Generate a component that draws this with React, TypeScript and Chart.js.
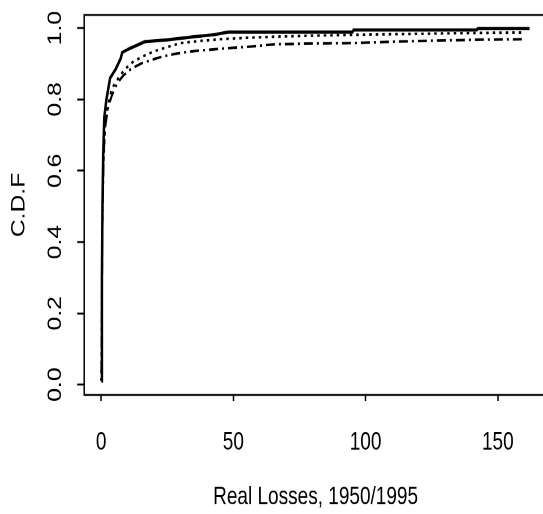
import React, { useEffect, useRef } from "react";
import { Chart, registerables } from "chart.js";

Chart.register(...registerables);

// ---- data ----
const solidX = [0.1, 0.3, 0.5, 0.8, 1.2, 2, 3.4, 5.5, 7.4, 8, 10.5, 13.5, 16.5, 25, 35, 43, 48, 95, 95.5, 142, 142.5, 162];
const solidY = [0.01, 0.3, 0.5, 0.65, 0.75, 0.8, 0.86, 0.885, 0.915, 0.932, 0.942, 0.952, 0.962, 0.967, 0.976, 0.982, 0.989, 0.989, 0.995, 0.995, 0.999, 0.999];

const dottedX = [0.05, 0.3, 0.8, 1.5, 2.5, 4, 6.5, 9, 12, 15.5, 20, 25, 30, 37, 45, 55, 65, 80, 100, 120, 135, 160];
const dottedY = [0.01, 0.3, 0.6, 0.72, 0.78, 0.83, 0.86, 0.885, 0.905, 0.92, 0.935, 0.947, 0.958, 0.964, 0.969, 0.973, 0.976, 0.979, 0.982, 0.984, 0.986, 0.988];

const dashDotX = [0.05, 0.3, 0.6, 1.0, 1.5, 2.7, 4, 6, 8.5, 11.5, 15.5, 19, 23, 28, 33, 40, 48, 56, 66, 80, 95, 110, 125, 145, 160];
const dashDotY = [0.01, 0.25, 0.5, 0.65, 0.72, 0.78, 0.81, 0.845, 0.868, 0.887, 0.902, 0.911, 0.92, 0.928, 0.934, 0.939, 0.944, 0.948, 0.955, 0.957, 0.958, 0.962, 0.965, 0.968, 0.969];

const xTickValues = [0, 50, 100, 150];
const xTickLabels = ["0", "50", "100", "150"];
const yTickValues = [0, 0.2, 0.4, 0.6, 0.8, 1.0];
const yTickLabels = ["0.0", "0.2", "0.4", "0.6", "0.8", "1.0"];
const xTitle = "Real Losses, 1950/1995";
const yTitle = "C.D.F";

// ---- layout (internal canvas units; canvas is displayed stretched vertically) ----
const W = 560;
const H = 395;
const FONT = '"Liberation Sans", Arial, Helvetica, sans-serif';

const toPts = (xs: number[], ys: number[]) => xs.map((x, i) => ({ x, y: ys[i] }));

const framePlugin = {
  id: "frameAndYLabels",
  afterDatasetsDraw(chart: any) {
    const { ctx, chartArea: a } = chart;
    ctx.save();
    ctx.strokeStyle = "#000";
    ctx.lineWidth = 1.5;
    ctx.strokeRect(a.left, a.top, a.right - a.left, a.bottom - a.top);
    const ys = chart.scales.y;
    ctx.fillStyle = "#000";
    ctx.font = `19px ${FONT}`;
    ctx.textAlign = "center";
    ctx.textBaseline = "middle";
    yTickValues.forEach((v, i) => {
      const py = ys.getPixelForValue(v);
      ctx.save();
      ctx.translate(56, py);
      ctx.rotate(-Math.PI / 2);
      ctx.fillText(yTickLabels[i], 0, 0);
      ctx.restore();
    });
    ctx.restore();
  },
};

export default function App() {
  const ref = useRef<HTMLCanvasElement | null>(null);

  useEffect(() => {
    if (!ref.current) return;
    const chart = new Chart(ref.current, {
      type: "scatter",
      data: {
        datasets: [
          {
            data: toPts(solidX, solidY),
            showLine: true,
            borderColor: "#000",
            borderWidth: 2.5,
            pointRadius: 0,
            tension: 0,
            fill: false,
          },
          {
            data: toPts(dottedX, dottedY),
            showLine: true,
            borderColor: "#000",
            borderWidth: 2,
            borderDash: [2.5, 4],
            pointRadius: 0,
            tension: 0,
            fill: false,
          },
          {
            data: toPts(dashDotX, dashDotY),
            showLine: true,
            borderColor: "#000",
            borderWidth: 2,
            borderDash: [2, 4, 9, 4],
            pointRadius: 0,
            tension: 0,
            fill: false,
          },
        ],
      },
      options: {
        animation: false,
        responsive: false,
        devicePixelRatio: 2,
        layout: { padding: { left: 0, top: 11.5, right: W - 547, bottom: 0 } },
        plugins: { legend: { display: false }, tooltip: { enabled: false } },
        scales: {
          x: {
            type: "linear",
            min: -6.4,
            max: 168.6,
            afterBuildTicks: (s: any) => {
              s.ticks = xTickValues.map((v) => ({ value: v }));
            },
            afterFit: (s: any) => {
              s.height = H - 303.5;
            },
            ticks: {
              callback: (v: any) => xTickLabels[xTickValues.indexOf(Number(v))] ?? "",
              font: { family: FONT, size: 19 },
              color: "#000",
              padding: 21,
              maxRotation: 0,
              minRotation: 0,
              autoSkip: false,
            },
            grid: {
              drawOnChartArea: false,
              drawTicks: true,
              tickLength: 4.5,
              tickWidth: 1.5,
              tickColor: "#000",
            },
            border: { display: false },
            title: {
              display: true,
              text: xTitle,
              color: "#000",
              font: { family: FONT, size: 19 },
              padding: { top: 0, bottom: 1.3 },
            },
          },
          y: {
            type: "linear",
            min: -0.029,
            max: 1.037,
            afterBuildTicks: (s: any) => {
              s.ticks = yTickValues.map((v) => ({ value: v }));
            },
            afterFit: (s: any) => {
              s.width = 84.2;
            },
            ticks: { display: false },
            grid: {
              drawOnChartArea: false,
              drawTicks: true,
              tickLength: 7,
              tickWidth: 1.5,
              tickColor: "#000",
            },
            border: { display: false },
            title: {
              display: true,
              text: yTitle,
              color: "#000",
              font: { family: FONT, size: 19 },
              padding: { top: 8.1, bottom: 0 },
            },
          },
        },
      },
      plugins: [framePlugin],
    } as any);
    return () => chart.destroy();
  }, []);

  return (
    <div
      style={{
        position: "fixed",
        left: 0,
        top: 0,
        width: 543,
        height: 514,
        overflow: "hidden",
        background: "#fff",
      }}
    >
      <canvas ref={ref} width={W} height={H} style={{ width: `${W}px`, height: "514px" }} />
    </div>
  );
}
